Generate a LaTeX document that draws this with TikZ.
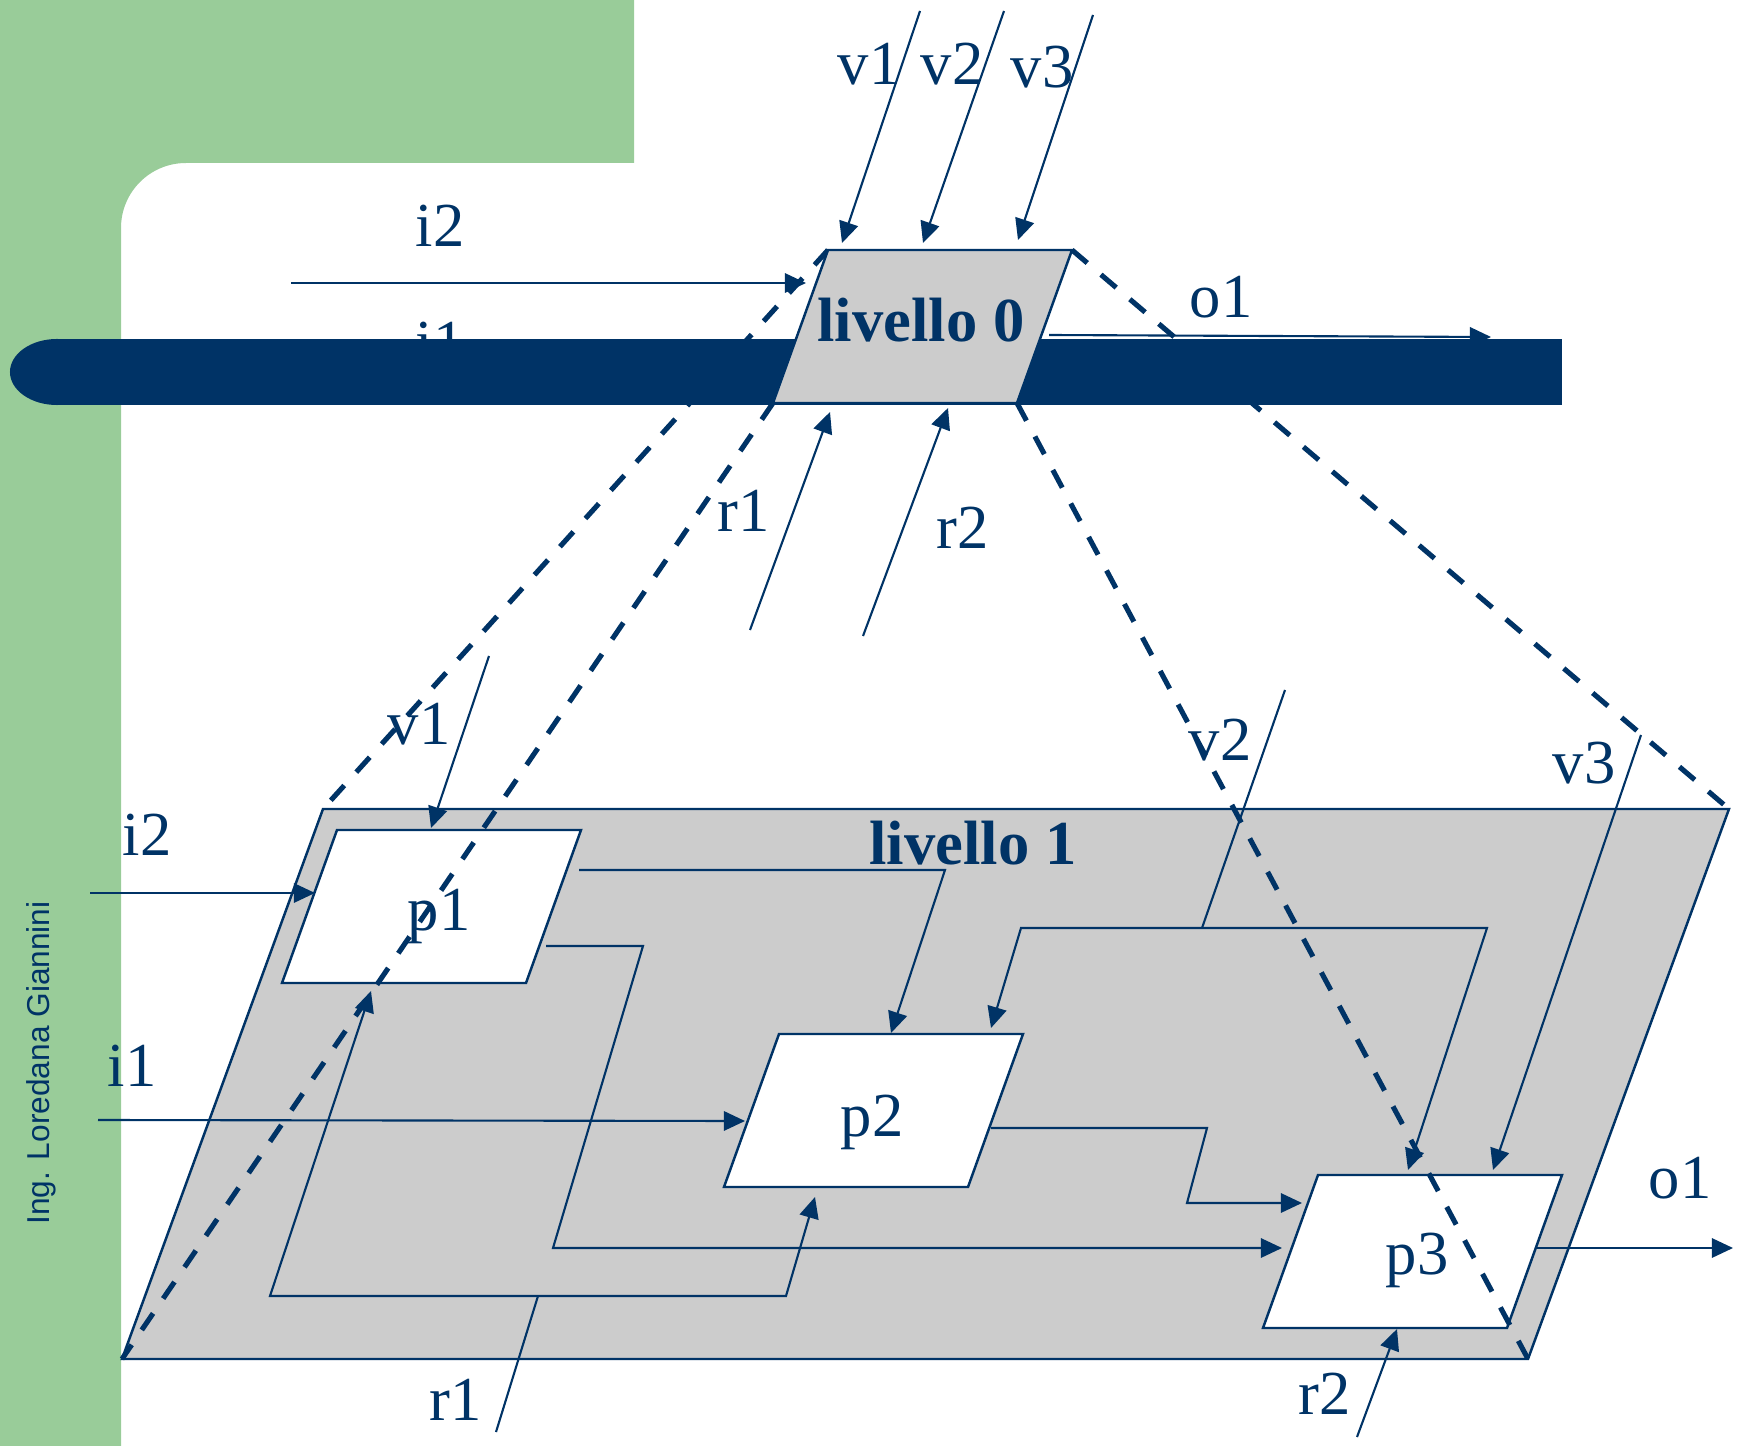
\documentclass[tikz,border=0pt]{standalone}
\usepackage{fontspec}
\setmainfont{Liberation Serif}
\setsansfont{Liberation Sans}
\usetikzlibrary{arrows.meta,calc}
\definecolor{lgnavy}{RGB}{0,51,102}
\definecolor{slidegreen}{RGB}{153,204,153}
\definecolor{planegray}{RGB}{204,204,204}

\begin{document}
\begin{tikzpicture}[x=0.01cm, y=-0.01cm, >={Triangle[length=6pt,width=5.5pt]},
  lbl/.style={text=lgnavy, anchor=base, inner sep=0pt, font=\fontsize{17.8}{21}\selectfont},
  flow/.style={lgnavy, line width=0.6pt},
  proj/.style={lgnavy, line width=1.45pt, dash pattern=on 5.7pt off 5.1pt},
  procbox/.style={draw=lgnavy, line width=0.7pt, fill=white}]
  \useasboundingbox (0,0) rectangle (1742,1446);
  % Slide frame
  \fill[slidegreen] (0,0) -- (634,0) -- (634,163) -- (186,163)
    .. controls (150,163) and (121,192) .. (121,228) -- (121,1446) -- (0,1446) -- cycle;
  \node[rotate=90, anchor=base, inner sep=0pt, text=lgnavy,
        font=\sffamily\fontsize{9}{11}\selectfont] (author) at (50,1063) {Ing. Loredana Giannini};

  % Corners of the parallelograms
  \foreach \nm/\x/\y in {L0/773/403, p1/282/983, p2/724/1187, p3/1263/1328} {
    \coordinate (\nm-bl) at (\x,\y);
    \coordinate (\nm-br) at (\x+244,\y);
    \coordinate (\nm-tr) at (\x+299,\y-153);
    \coordinate (\nm-tl) at (\x+55,\y-153);
  }
  \coordinate (L1-bl) at (122,1359);
  \coordinate (L1-br) at (1528,1359);
  \coordinate (L1-tr) at (1729,809);
  \coordinate (L1-tl) at (323,809);

  % Connector ends and bends
  \foreach \n/\x/\y in {tv1s/920/11, tv1e/842/243, tv2s/1004/11, tv2e/923/243,
      tv3s/1093/15, tv3e/1018/240, ti2s/291/283, ti2e/806/283,
      to1s/1049/335, to1e/1491/337, tr1s/750/630, tr1e/830/412,
      tr2s/863/636, tr2e/948/408,
      v1s/489/656, v1e/431/828, i2s/90/893, i2e/315/893, i1s/98/1120, i1e/745/1121,
      pa/579/870, pab/945/870, pae/891/1033,
      pb/546/946, pbb1/643/946, pbb2/553/1248, pbe/1282/1248,
      r1s/496/1432, r1j/538/1296, r1l/270/1296, r1r/786/1296, r1p1/371/991, r1p2/815/1197,
      v2s/1285/690, v2j/1202/928, v2l/1021/928, v2r/1487/928, v2p2/991/1028, v2p3/1408/1170,
      v3s/1641/735, v3e/1493/1170,
      pc/991/1128, pcb1/1207/1128, pcb2/1187/1203, pce/1302/1203,
      o1s/1535/1248, o1e/1733/1248, r2s/1357/1437, r2e/1397/1329}
    \coordinate (\n) at (\x,\y);

  % Livello 1
  \draw[procbox, fill=planegray] (L1-bl) -- (L1-br) -- (L1-tr) -- (L1-tl) -- cycle;
  \foreach \nm in {p1,p2,p3}
    \draw[procbox] (\nm-bl) -- (\nm-br) -- (\nm-tr) -- (\nm-tl) -- cycle;
  \node[lbl] (p1) at (439,930) {p1};
  \node[lbl] (p2) at (872,1136) {p2};
  \node[lbl] (p3) at (1417,1274) {p3};
  \node[lbl, font=\fontsize{17.8}{21}\selectfont\bfseries] (liv1) at (973,864) {livello 1};

  \draw[flow,->] (v1s) -- (v1e);
  \draw[flow,->] (i2s) -- (i2e);
  \draw[flow,->] (i1s) -- (i1e);
  \draw[flow,->] (pa) -- (pab) -- (pae);
  \draw[flow,->] (pb) -- (pbb1) -- (pbb2) -- (pbe);
  \draw[flow] (r1s) -- (r1j);
  \draw[flow,<->] (r1p1) -- (r1l) -- (r1r) -- (r1p2);
  \draw[flow] (v2s) -- (v2j);
  \draw[flow,<->] (v2p2) -- (v2l) -- (v2r) -- (v2p3);
  \draw[flow,->] (v3s) -- (v3e);
  \draw[flow,->] (pc) -- (pcb1) -- (pcb2) -- (pce);
  \draw[flow,->] (o1s) -- (o1e);
  \draw[flow,->] (r2s) -- (r2e);

  \node[lbl] (v1b) at (419,744) {v1};
  \node[lbl] (i2b) at (147,855) {i2};
  \node[lbl] (i1b) at (132,1086) {i1};
  \node[lbl] (v2b) at (1220,760) {v2};
  \node[lbl] (v3b) at (1584,783) {v3};
  \node[lbl] (o1b) at (1680,1198) {o1};
  \node[lbl] (r1b) at (456,1420) {r1};
  \node[lbl] (r2b) at (1325,1414) {r2};

  % Livello 0 connectors
  \draw[flow,->] (tv1s) -- (tv1e);
  \draw[flow,->] (tv2s) -- (tv2e);
  \draw[flow,->] (tv3s) -- (tv3e);
  \draw[flow,->] (ti2s) -- (ti2e);
  \draw[flow,->] (to1s) -- (to1e);
  \draw[flow,->] (tr1s) -- (tr1e);
  \draw[flow,->] (tr2s) -- (tr2e);
  \node[lbl] (v1t) at (869,85) {v1};
  \node[lbl] (v2t) at (952,85) {v2};
  \node[lbl] (v3t) at (1042,88) {v3};
  \node[lbl] (i2t) at (440,247) {i2};
  \node[lbl] (i1t) at (440,364) {i1};
  \node[lbl] (o1t) at (1221,318) {o1};
  \node[lbl] (r1t) at (744,532) {r1};
  \node[lbl] (r2t) at (963,548) {r2};

  % Projection lines
  \foreach \c in {tl,bl,br,tr}
    \draw[proj] (L0-\c) -- (L1-\c);

  % Title bar
  \fill[lgnavy] (57,339) rectangle (1562,405);
  \fill[lgnavy] (57,372) ellipse [x radius=0.47cm, y radius=0.33cm];

  % Livello 0
  \draw[procbox, fill=planegray] (L0-bl) -- (L0-br) -- (L0-tr) -- (L0-tl) -- cycle;
  \node[lbl, font=\fontsize{17.8}{21}\selectfont\bfseries] (liv0) at (921,342) {livello 0};
\end{tikzpicture}
\end{document}
